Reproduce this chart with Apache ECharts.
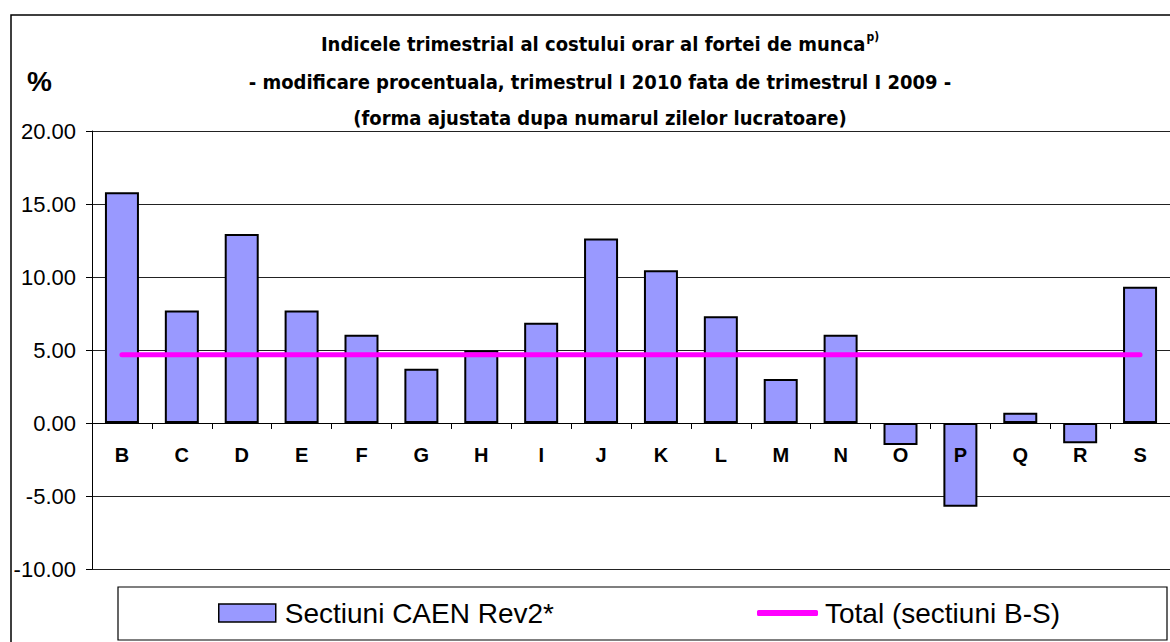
<!DOCTYPE html>
<html>
<head>
<meta charset="utf-8">
<script src="https://cdn.jsdelivr.net/npm/echarts@6/dist/echarts.min.js"></script>
<style>
html,body{margin:0;padding:0;background:#fff;}
#chart{width:1170px;height:642px;}
</style>
</head>
<body>
<div id="chart"></div>
<script>
// ---- data ----
const categories = ['B','C','D','E','F','G','H','I','J','K','L','M','N','O','P','Q','R','S'];
const sectiuniValues = [15.80, 7.70, 12.94, 7.70, 6.04, 3.71, 4.97, 6.87, 12.64, 10.47, 7.31, 3.02, 6.04, -1.51, -5.74, 0.71, -1.39, 9.34];
const totalValues = [4.68, 4.68, 4.68, 4.68, 4.68, 4.68, 4.68, 4.68, 4.68, 4.68, 4.68, 4.68, 4.68, 4.68, 4.68, 4.68, 4.68, 4.68];
const seriesNames = ['Sectiuni CAEN Rev2*', 'Total (sectiuni B-S)'];
const yMin = -10, yMax = 20, yStep = 5;
const titleLines = [
  'Indicele trimestrial al costului orar al fortei de munca',
  '- modificare procentuala, trimestrul I 2010 fata de trimestrul I 2009 -',
  '(forma ajustata dupa numarul zilelor lucratoare)'
];
const titleSup = 'p)';
const yUnit = '%';

const narrow = "'Liberation Sans Narrow','DejaVu Sans Condensed','Arial Narrow',sans-serif";
const arial = "'Liberation Sans',Arial,sans-serif";

const gridTop = 131, gridHeight = 438;
// pixel distance from the grid bottom up to the zero line (derived from the axis range)
const zeroOffset = gridHeight * (0 - yMin) / (yMax - yMin);

const chart = echarts.init(document.getElementById('chart'), null, {renderer: 'svg'});
const titleStyle = {fontFamily: narrow, fontWeight: 'bold', fontSize: 20, color: '#000'};

chart.setOption({
  animation: false,
  backgroundColor: '#fff',
  title: [
    {text: '{m|' + titleLines[0] + '}{s|' + titleSup + '}', left: 600, top: 44, textAlign: 'center', textVerticalAlign: 'middle', padding: 0,
     textStyle: {rich: {m: Object.assign({lineHeight: 26}, titleStyle), s: {fontFamily: narrow, fontWeight: 'bold', fontSize: 12, color: '#000', verticalAlign: 'top', lineHeight: 26, padding: [0,0,0,1]}}}},
    {text: titleLines[1], left: 600, top: 82, textAlign: 'center', textVerticalAlign: 'middle', padding: 0, textStyle: titleStyle},
    {text: titleLines[2], left: 600, top: 118, textAlign: 'center', textVerticalAlign: 'middle', padding: 0, textStyle: titleStyle}
  ],
  graphic: [
    {type: 'rect', shape: {x: 11, y: 15, width: 1200, height: 700}, style: {fill: 'none', stroke: '#000', lineWidth: 1.5}, z: -10, silent: true},
    {type: 'rect', shape: {x: 118, y: 587, width: 1049, height: 53}, style: {fill: '#fff', stroke: '#000', lineWidth: 1.2}, z: -5, silent: true}
  ],
  legend: [
    {data: [{name: seriesNames[0], icon: 'rect'}], left: 218, top: 599, padding: 0, itemWidth: 57, itemHeight: 18, itemGap: 0,
     textStyle: {fontFamily: arial, fontSize: 28, lineHeight: 28, color: '#000', padding: [0,0,0,4]},
     itemStyle: {color: '#9999FF', borderColor: '#000', borderWidth: 1.5}},
    {data: [{name: seriesNames[1], icon: 'roundRect'}], left: 757, top: 599, padding: 0, itemWidth: 61, itemHeight: 6, itemGap: 0,
     textStyle: {fontFamily: arial, fontSize: 28, lineHeight: 28, color: '#000', padding: [0,0,0,2]},
     itemStyle: {color: '#FF00FF', borderWidth: 0}}
  ],
  grid: {left: 92, top: gridTop, width: 1080, height: gridHeight, containLabel: false},
  xAxis: {
    type: 'category', data: categories, z: 5,
    offset: -zeroOffset,
    axisLine: {onZero: false, lineStyle: {color: '#000', width: 1}},
    axisTick: {show: true, length: 6, lineStyle: {color: '#000', width: 1}},
    axisLabel: {fontFamily: arial, fontWeight: 'bold', fontSize: 20, color: '#000', margin: 22},
    splitLine: {show: false}
  },
  yAxis: {
    type: 'value', min: yMin, max: yMax, interval: yStep,
    name: yUnit, nameLocation: 'end', nameGap: 50,
    nameTextStyle: {fontFamily: arial, fontWeight: 'bold', fontSize: 28, color: '#000', align: 'right', verticalAlign: 'middle', padding: [0, 40, 0, 0]},
    axisLine: {show: true, lineStyle: {color: '#000', width: 1}},
    axisTick: {show: true, length: 6, lineStyle: {color: '#000', width: 1}},
    axisLabel: {fontFamily: arial, fontSize: 22, color: '#000', margin: 16, formatter: v => v.toFixed(2)},
    splitLine: {show: true, lineStyle: {color: '#222', width: 1}}
  },
  series: [
    {name: seriesNames[0], type: 'bar', data: sectiuniValues, barWidth: 34, z: 2,
     itemStyle: {color: '#9999FF', borderColor: '#000', borderWidth: 2}},
    {name: seriesNames[1], type: 'line', data: totalValues, symbol: 'none', z: 3,
     lineStyle: {color: '#FF00FF', width: 5, cap: 'round'}, itemStyle: {color: '#FF00FF'}}
  ]
});
</script>
</body>
</html>
